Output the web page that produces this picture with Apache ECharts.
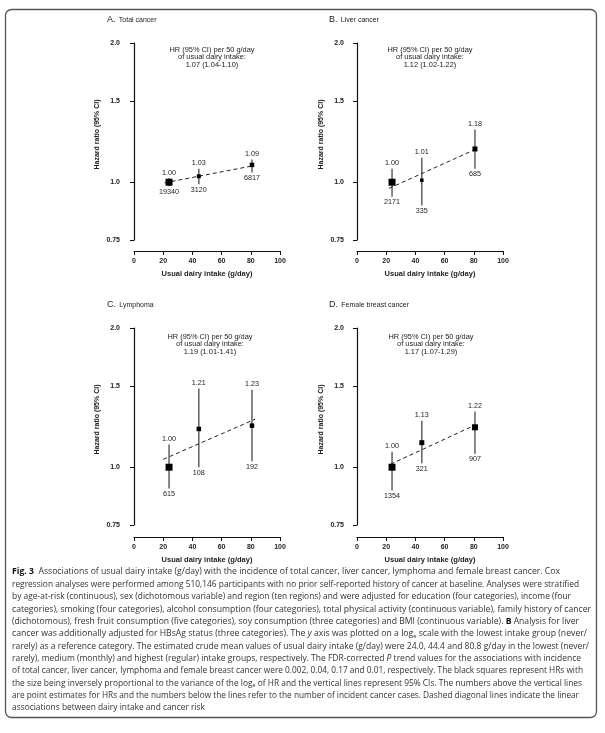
<!DOCTYPE html>
<html><head><meta charset="utf-8">
<script src="https://cdn.jsdelivr.net/npm/echarts@6/dist/echarts.min.js"></script>
<style>html,body{margin:0;padding:0;background:#fff}#c{width:605px;height:733px}</style>
</head><body><div id="c"></div>
<script>
// ---------- data ----------
const xTicks = [0, 20, 40, 60, 80, 100];
const yTicks = [0.75, 1.0, 1.5, 2.0];
const yTickLabels = ['0.75', '1.0', '1.5', '2.0'];
const intake = [24.0, 44.4, 80.8];

const panelLetters = ['A.', 'B.', 'C.', 'D.'];
const panelNames = ['Total cancer', 'Liver cancer', 'Lymphoma', 'Female breast cancer'];
const trendHR = ['1.07 (1.04-1.10)', '1.12 (1.02-1.22)', '1.19 (1.01-1.41)', '1.17 (1.07-1.29)'];

const hrA = [1.00, 1.03, 1.09], loA = [0.98, 0.99, 1.05], hiA = [1.02, 1.07, 1.12];
const casesA = [19340, 3120, 6817], sizeA = [7, 4, 4.5];
const trendA = [[21, 0.997], [80, 1.083]];

const hrB = [1.00, 1.01, 1.18], loB = [0.93, 0.89, 1.07], hiB = [1.07, 1.13, 1.30];
const casesB = [2171, 335, 685], sizeB = [7, 3.5, 5];
const trendB = [[22, 0.97], [83, 1.185]];

const hrC = [1.00, 1.21, 1.23], loC = [0.90, 1.00, 1.03], hiC = [1.12, 1.48, 1.47];
const casesC = [615, 108, 192], sizeC = [7, 4.5, 4.5];
const trendC = [[20, 1.04], [83, 1.27]];

const hrD = [1.00, 1.13, 1.22], loD = [0.89, 1.02, 1.07], hiD = [1.08, 1.26, 1.32];
const casesD = [1354, 321, 907], sizeD = [7, 5, 6];
const trendD = [[23, 1.015], [80, 1.23]];

const panels = [
  {hr: hrA, lo: loA, hi: hiA, cases: casesA, size: sizeA, trend: trendA},
  {hr: hrB, lo: loB, hi: hiB, cases: casesB, size: sizeB, trend: trendB},
  {hr: hrC, lo: loC, hi: hiC, cases: casesC, size: sizeC, trend: trendC},
  {hr: hrD, lo: loD, hi: hiD, cases: casesD, size: sizeD, trend: trendD}
];

const captionLines = [
  '{b|Fig. 3}  Associations of usual dairy intake (g/day) with the incidence of total cancer, liver cancer, lymphoma and female breast cancer. Cox',
  'regression analyses were performed among 510,146 participants with no prior self-reported history of cancer at baseline. Analyses were stratified',
  'by age-at-risk (continuous), sex (dichotomous variable) and region (ten regions) and were adjusted for education (four categories), income (four',
  'categories), smoking (four categories), alcohol consumption (four categories), total physical activity (continuous variable), family history of cancer',
  '(dichotomous), fresh fruit consumption (five categories), soy consumption (three categories) and BMI (continuous variable). {b|B} Analysis for liver',
  'cancer was additionally adjusted for HBsAg status (three categories). The {i|y} axis was plotted on a log{s|e} scale with the lowest intake group (never/',
  'rarely) as a reference category. The estimated crude mean values of usual dairy intake (g/day) were 24.0, 44.4 and 80.8 g/day in the lowest (never/',
  'rarely), medium (monthly) and highest (regular) intake groups, respectively. The FDR-corrected {i|P} trend values for the associations with incidence',
  'of total cancer, liver cancer, lymphoma and female breast cancer were 0.002, 0.04, 0.17 and 0.01, respectively. The black squares represent HRs with',
  'the size being inversely proportional to the variance of the log{s|e} of HR and the vertical lines represent 95% CIs. The numbers above the vertical lines',
  'are point estimates for HRs and the numbers below the lines refer to the number of incident cancer cases. Dashed diagonal lines indicate the linear',
  'associations between dairy intake and cancer risk'
];
// right edge (px) of each caption line in the reference
const captionEnds = [560, 579, 571, 591, 579, 587, 589, 581, 583, 582, 579, 205];

// ---------- layout ----------
const FONT = 'Liberation Sans, Arial, sans-serif';
const gridPos = [
  {left: 134, top: 43, yOff: 9, xOff: 11, titleX: 107, titleY: 20, annX: 212, annY: 50},
  {left: 357, top: 43, yOff: 8, xOff: 11, titleX: 329, titleY: 20, annX: 430, annY: 50},
  {left: 134, top: 328, yOff: 9, xOff: 12, titleX: 107, titleY: 305, annX: 210, annY: 337},
  {left: 357, top: 328, yOff: 8, xOff: 12, titleX: 329, titleY: 305, annX: 431, annY: 337}
];

const chart = echarts.init(document.getElementById('c'), null, {renderer: 'canvas'});

const grid = [], xAxis = [], yAxis = [], series = [], graphic = [];

gridPos.forEach((g, i) => {
  const p = panels[i];
  grid.push({left: g.left, top: g.top, width: 146, height: 197, containLabel: false});
  xAxis.push({
    type: 'value', gridIndex: i, min: 0, max: 100, interval: 20, offset: g.xOff,
    name: 'Usual dairy intake (g/day)', nameLocation: 'middle', nameGap: 19,
    nameTextStyle: {fontFamily: FONT, fontSize: 7.5, fontWeight: 'bold', color: '#222'},
    axisLine: {show: true, lineStyle: {color: '#111', width: 1.2}},
    axisTick: {show: true, length: 4, lineStyle: {color: '#111', width: 1}},
    axisLabel: {fontFamily: FONT, fontSize: 7, fontWeight: 'bold', color: '#222', margin: 7,
      customValues: xTicks},
    splitLine: {show: false}
  });
  yAxis.push({
    type: 'log', gridIndex: i, min: 0.75, max: 2.0, logBase: 10, offset: g.yOff,
    name: 'Hazard ratio (95% CI)', nameLocation: 'middle', nameGap: 24, nameRotate: 90,
    nameTextStyle: {fontFamily: FONT, fontSize: 7, fontWeight: 'bold', color: '#222', padding: [0, 0, 0, 14]},
    axisLine: {show: true, lineStyle: {color: '#111', width: 1.2}},
    axisTick: {show: true, length: 4, customValues: yTicks, lineStyle: {color: '#111', width: 1}},
    axisLabel: {fontFamily: FONT, fontSize: 7, fontWeight: 'bold', color: '#222', margin: 5,
      customValues: yTicks,
      formatter: v => { const k = yTicks.findIndex(t => Math.abs(t - v) < 1e-6); return k >= 0 ? yTickLabels[k] : ''; }},
    splitLine: {show: false}
  });

  const ciData = intake.map((x, k) => [x, p.lo[k], p.hi[k], p.hr[k], p.cases[k]]);
  series.push({
    type: 'custom', xAxisIndex: i, yAxisIndex: i, z: 2,
    data: ciData,
    renderItem: (params, api) => {
      const x = api.value(0), lo = api.value(1), hi = api.value(2);
      const hr = api.value(3), cs = api.value(4);
      const top = api.coord([x, hi]), bot = api.coord([x, lo]);
      return {type: 'group', children: [
        {type: 'line', shape: {x1: top[0], y1: top[1], x2: bot[0], y2: bot[1]},
         style: {stroke: '#555', lineWidth: 1.4}},
        {type: 'text', style: {text: hr.toFixed(2), x: top[0], y: top[1] - 2, align: 'center', verticalAlign: 'bottom',
          fontFamily: FONT, fontSize: 7.2, fill: '#222'}},
        {type: 'text', style: {text: String(cs), x: bot[0], y: bot[1] + 2, align: 'center', verticalAlign: 'top',
          fontFamily: FONT, fontSize: 7.2, fill: '#222'}}
      ]};
    }
  });
  series.push({
    type: 'line', xAxisIndex: i, yAxisIndex: i, z: 3, data: p.trend, symbol: 'none',
    lineStyle: {color: '#222', width: 1, type: [4, 3]}, silent: true
  });
  series.push({
    type: 'scatter', xAxisIndex: i, yAxisIndex: i, z: 4, symbol: 'rect',
    data: intake.map((x, k) => [x, p.hr[k], p.size[k]]),
    symbolSize: v => v[2], itemStyle: {color: '#000', opacity: 1}
  });

  graphic.push({
    type: 'text', left: g.titleX, top: g.titleY - 6,
    style: {text: '{a|' + panelLetters[i] + '} {b|' + panelNames[i] + '}',
      rich: {a: {fontFamily: FONT, fontSize: 9, fill: '#222'}, b: {fontFamily: FONT, fontSize: 7, fill: '#222'}}}
  });
  graphic.push({
    type: 'text', x: g.annX, y: g.annY - 4,
    style: {text: 'HR (95% CI) per 50 g/day\nof usual dairy intake:\n' + trendHR[i],
      align: 'center', verticalAlign: 'top', lineHeight: 7.6,
      fontFamily: FONT, fontSize: 7.4, fill: '#222'}
  });
});

// caption
const CAP_FONT = 'Open Sans';
const capSize = 8.6;
const ctx = document.createElement('canvas').getContext('2d');
const capX = 12;
captionLines.forEach((ln, k) => {
  let w = 0;
  ln.split(/(\{[bis]\|[^}]*\})/).forEach(part => {
    const m = part.match(/^\{([bis])\|([^}]*)\}$/);
    if (m) {
      const st = m[1];
      ctx.font = (st === 'b' ? 'bold ' : st === 'i' ? 'italic ' : '') + (st === 's' ? 5.5 : capSize) + 'px "' + CAP_FONT + '"';
      w += ctx.measureText(m[2]).width;
    } else if (part) {
      ctx.font = capSize + 'px "' + CAP_FONT + '"';
      w += ctx.measureText(part).width;
    }
  });
  let sc = (captionEnds[k] - capX) / w;
  if (k === captionLines.length - 1) sc = Math.min(sc, 1);
  graphic.push({
    type: 'text', x: capX, y: 572 + k * 12.35, scaleX: sc,
    style: {text: ln, verticalAlign: 'middle', fontFamily: CAP_FONT, fontSize: capSize, fill: '#333',
      rich: {
        b: {fontFamily: CAP_FONT, fontSize: capSize, fontWeight: 'bold', fill: '#111'},
        i: {fontFamily: CAP_FONT, fontSize: capSize, fontStyle: 'italic', fill: '#333'},
        s: {fontFamily: CAP_FONT, fontSize: 5.5, fill: '#333', padding: [5, 0, 0, 0]}
      }}
  });
});

graphic.push({
  type: 'rect', shape: {x: 5.5, y: 9.5, width: 591, height: 708, r: 6},
  style: {fill: 'none', stroke: '#555', lineWidth: 1.3}, z: -1
});

chart.setOption({
  animation: false,
  backgroundColor: '#fff',
  grid, xAxis, yAxis, series, graphic
});
</script></body></html>
